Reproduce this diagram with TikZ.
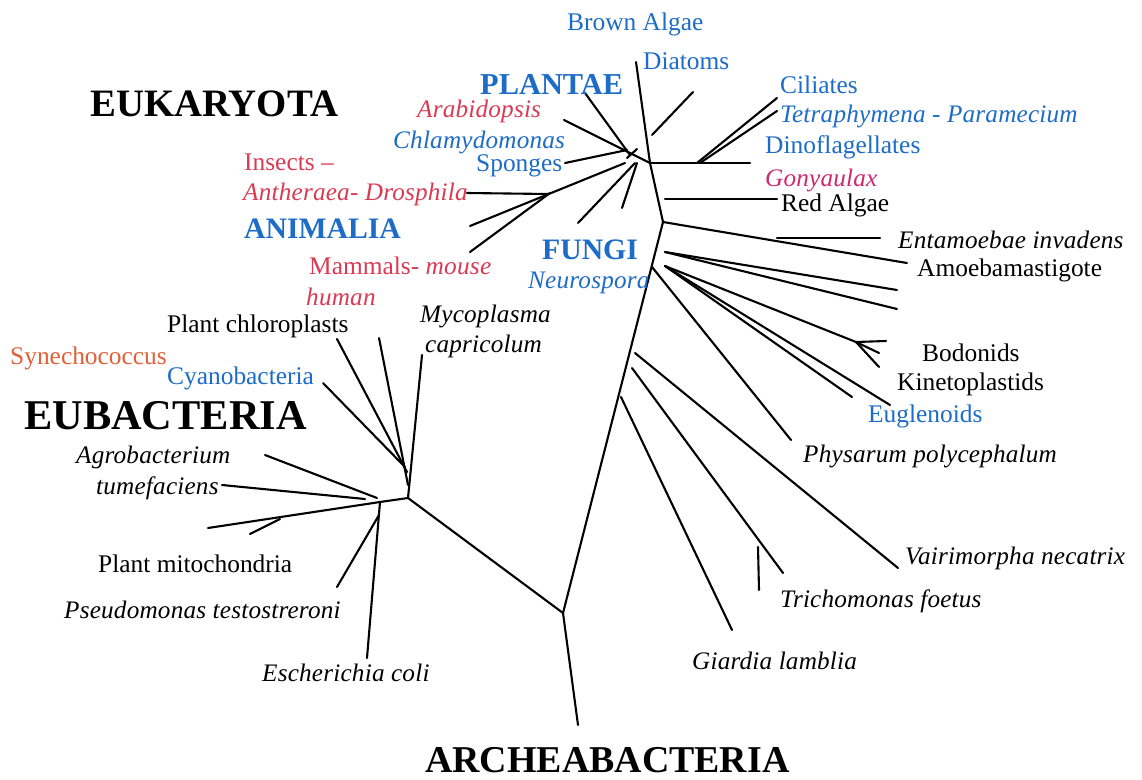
\documentclass[tikz,border=0pt]{standalone}
\usepackage{fontspec}
\setmainfont{Liberation Serif}
\definecolor{tblue}{RGB}{28,108,200}
\definecolor{tred}{RGB}{218,58,82}
\definecolor{tmag}{RGB}{208,40,110}
\definecolor{torange}{RGB}{226,96,56}
\begin{document}
\begin{tikzpicture}[x=1pt,y=-1pt,
  br/.style={line width=2.1pt,line cap=round},
  lab/.style={anchor=west,inner sep=0pt,font=\fontsize{25.4}{30}\selectfont},
  ilab/.style={anchor=west,inner sep=0pt,font=\fontsize{25.2}{30}\selectfont\itshape\addfontfeatures{LetterSpace=0.8}},
  big/.style={anchor=west,inner sep=0pt,font=\fontsize{40}{46}\selectfont\bfseries},
  king/.style={anchor=west,inner sep=0pt,font=\fontsize{29.7}{34}\selectfont\bfseries,text=tblue}]
\fill[white] (0,0) rectangle (1142,779);
\useasboundingbox (0,0) rectangle (1142,779);

% ---------- coordinates ----------
\coordinate (r0) at (563,613);
\coordinate (ra) at (578,725);
\coordinate (t1) at (663,222);
\coordinate (t0) at (650,163);
\coordinate (dia) at (636,62);
\coordinate (s1) at (652,135);
\coordinate (s2) at (693,92);
\coordinate (dn) at (750,163);
\coordinate (ci0) at (697,163);
\coordinate (ci1) at (777,98);
\coordinate (ci0b) at (700,163);
\coordinate (ci2) at (777,111);
\coordinate (ra0) at (665,199);
\coordinate (ra1) at (777,199);
\coordinate (am) at (907,263);
\coordinate (en0) at (777,238);
\coordinate (en1) at (880,238);
\coordinate (k0) at (665,252);
\coordinate (k1) at (897,290);
\coordinate (k2) at (897,309);
\coordinate (k3) at (665,266);
\coordinate (bo) at (856,342);
\coordinate (bo1) at (886,341);
\coordinate (bo2) at (879,353);
\coordinate (bo3) at (879,367);
\coordinate (k4) at (852,397);
\coordinate (k5) at (890,405);
\coordinate (ph0) at (652,267);
\coordinate (ph1) at (791,440);
\coordinate (v0) at (635,353);
\coordinate (v1) at (898,568);
\coordinate (tr0) at (632,368);
\coordinate (tr1) at (783,573);
\coordinate (tk0) at (758,547);
\coordinate (tk1) at (759,590);
\coordinate (gi0) at (621,397);
\coordinate (gi1) at (732,630);
% crown
\coordinate (ar) at (564,120);
\coordinate (pl) at (585,93);
\coordinate (pn) at (630,155);
\coordinate (sp) at (565,163);
\coordinate (spn) at (627,150);
\coordinate (an1) at (470,226);
\coordinate (ann) at (625,163);
\coordinate (anx) at (548,194);
\coordinate (dr) at (467,193);
\coordinate (mm) at (470,252);
\coordinate (mmn) at (550,193);
\coordinate (f1) at (578,223);
\coordinate (f1n) at (635,163);
\coordinate (f2) at (622,208);
\coordinate (f2n) at (637,163);
\coordinate (tc0) at (627,158);
\coordinate (tc1) at (637,149);
% eubacteria
\coordinate (eb) at (408,498);
\coordinate (myc) at (422,355);
\coordinate (ch1) at (337,339);
\coordinate (ch1n) at (407,472);
\coordinate (ch2) at (379,338);
\coordinate (ch2n) at (408,485);
\coordinate (cy) at (323,383);
\coordinate (cyn) at (405,467);
\coordinate (e2) at (380,502);
\coordinate (ag) at (265,455);
\coordinate (agn) at (377,498);
\coordinate (tu) at (222,485);
\coordinate (tun) at (365,499);
\coordinate (mi) at (208,528);
\coordinate (mi1) at (280,519);
\coordinate (mi2) at (250,534);
\coordinate (ec) at (367,658);
\coordinate (ps) at (337,587);
\coordinate (psn) at (379,515);

% ---------- branches ----------
\draw[br] (r0) -- (ra);
\draw[br] (r0) -- (t1) -- (t0) -- (dia);
\draw[br] (s1) -- (s2);
\draw[br] (t0) -- (dn);
\draw[br] (ci0) -- (ci1);
\draw[br] (ci0b) -- (ci2);
\draw[br] (ra0) -- (ra1);
\draw[br] (t1) -- (am);
\draw[br] (en0) -- (en1);
\draw[br] (k0) -- (k1);
\draw[br] (k0) -- (k2);
\draw[br] (k3) -- (bo) -- (bo1);
\draw[br] (bo) -- (bo2);
\draw[br] (bo) -- (bo3);
\draw[br] (k3) -- (k4);
\draw[br] (k3) -- (k5);
\draw[br] (ph0) -- (ph1);
\draw[br] (v0) -- (v1);
\draw[br] (tr0) -- (tr1);
\draw[br] (tk0) -- (tk1);
\draw[br] (gi0) -- (gi1);
\draw[br] (ar) -- (t0);
\draw[br] (pl) -- (pn);
\draw[br] (sp) -- (spn);
\draw[br] (an1) -- (ann);
\draw[br] (dr) -- (anx);
\draw[br] (mm) -- (mmn);
\draw[br] (f1) -- (f1n);
\draw[br] (f2) -- (f2n);
\draw[br] (tc0) -- (tc1);
\draw[br] (r0) -- (eb) -- (myc);
\draw[br] (ch1) -- (ch1n);
\draw[br] (ch2) -- (ch2n);
\draw[br] (cy) -- (cyn);
\draw[br] (eb) -- (e2);
\draw[br] (ag) -- (agn);
\draw[br] (tu) -- (tun);
\draw[br] (mi) -- (e2);
\draw[br] (mi1) -- (mi2);
\draw[br] (e2) -- (ec);
\draw[br] (ps) -- (psn);

% ---------- labels ----------
\node[big,font=\fontsize{38.8}{44}\selectfont\bfseries] (euk) at (90,104) {EUKARYOTA};
\node[big,font=\fontsize{42.4}{48}\selectfont\bfseries] (eub) at (24,416) {EUBACTERIA};
\node[big,font=\fontsize{37.9}{44}\selectfont\bfseries] (arc) at (425,760) {ARCHEABACTERIA};
\node[king,font=\fontsize{30.4}{34}\selectfont\bfseries] (plantae) at (480,84) {PLANTAE};
\node[king] (animalia) at (244,229) {ANIMALIA};
\node[king] (fungi) at (542,250) {FUNGI};

\node[lab,text=tblue] (brown) at (567,24) {Brown Algae};
\node[lab,text=tblue] (diatoms) at (643,61) {Diatoms};
\node[ilab,text=tred] (arab) at (417,111) {Arabidopsis};
\node[ilab,text=tblue] (chlam) at (393,142) {Chlamydomonas};
\node[lab,text=tblue] (sponges) at (476,166) {Sponges};
\node[lab,text=tred] (insects) at (244,162) {Insects --};
\node[ilab,text=tred] (anth) at (243,194) {Antheraea- Drosphila};
\node[lab,text=tred] (mamm) at (309,266) {Mammals- \itshape\addfontfeatures{LetterSpace=0.8}mouse};
\node[ilab,text=tred] (human) at (306,297) {human};
\node[ilab,text=tblue] (neuro) at (528,283) {Neurospora};

\node[lab,text=tblue] (cil) at (780,85) {Ciliates};
\node[ilab,text=tblue] (tetra) at (780,116) {Tetraphymena - Paramecium};
\node[lab,text=tblue] (dino) at (765,147) {Dinoflagellates};
\node[ilab,text=tmag] (gony) at (765,180) {Gonyaulax};
\node[lab] (redal) at (781,205) {Red Algae};
\node[ilab] (ent) at (898,240) {Entamoebae invadens};
\node[lab] (amoeba) at (917,270) {Amoebamastigote};
\node[lab] (bodo) at (922,353) {Bodonids};
\node[lab] (kine) at (897,384) {Kinetoplastids};
\node[lab,text=tblue] (eugl) at (868,416) {Euglenoids};
\node[ilab] (phys) at (803,456) {Physarum polycephalum};
\node[ilab] (vair) at (905,558) {Vairimorpha necatrix};
\node[ilab] (trich) at (780,601) {Trichomonas foetus};
\node[ilab] (giard) at (692,661) {Giardia lamblia};

\node[lab] (chloro) at (167,326) {Plant chloroplasts};
\node[ilab] (myco) at (420,316) {Mycoplasma};
\node[ilab] (capri) at (425,346) {capricolum};
\node[lab,text=torange] (syn) at (10,358) {Synechococcus};
\node[lab,text=tblue] (cyano) at (167,378) {Cyanobacteria};
\node[ilab] (agro) at (76,457) {Agrobacterium};
\node[ilab] (tume) at (96,488) {tumefaciens};
\node[lab] (mito) at (98,564) {Plant mitochondria};
\node[ilab] (pseudo) at (64,610) {Pseudomonas testostreroni};
\node[ilab] (ecoli) at (262,673) {Escherichia coli};
\end{tikzpicture}
\end{document}
